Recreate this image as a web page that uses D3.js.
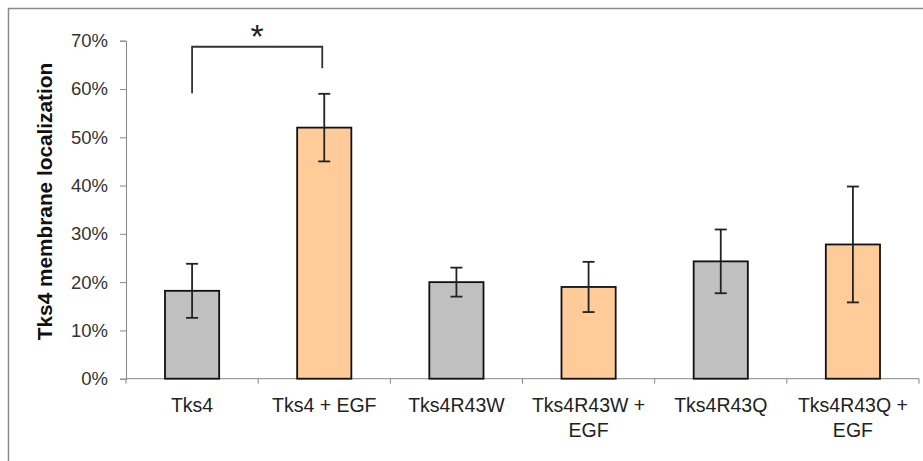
<!DOCTYPE html>
<html lang="en">
<head>
  <meta charset="utf-8">
  <title>Tks4 membrane localization</title>
  <script src="https://d3js.org/d3.v7.min.js"></script>
  <style>
    body { margin: 0; background: #fff; }
    svg { display: block; font-family: "Liberation Sans", Arial, sans-serif; }
  </style>
</head>
<body>
  <script>
    // data
    var categories = ["Tks4", "Tks4 + EGF", "Tks4R43W", "Tks4R43W + EGF", "Tks4R43Q", "Tks4R43Q + EGF"];
    var labelLines = [["Tks4"], ["Tks4 + EGF"], ["Tks4R43W"], ["Tks4R43W +", "EGF"], ["Tks4R43Q"], ["Tks4R43Q +", "EGF"]];
    var values = [0.182, 0.520, 0.200, 0.190, 0.243, 0.278];
    var errors = [0.056, 0.070, 0.030, 0.052, 0.066, 0.120];
    var yTicks = [0, 0.1, 0.2, 0.3, 0.4, 0.5, 0.6, 0.7];

    var width = 923, height = 461;
    var m = { left: 126, right: 919, top: 40.7, bottom: 378.7 };

    var svg = d3.select("body").append("svg")
      .attr("width", width)
      .attr("height", height);

    // frame (top and left edges only, as cropped)
    svg.append("line").attr("x1", 8).attr("x2", width).attr("y1", 8.5).attr("y2", 8.5)
      .attr("stroke", "#8a8a8a").attr("stroke-width", 1.5);
    svg.append("line").attr("x1", 8.5).attr("x2", 8.5).attr("y1", 8).attr("y2", height)
      .attr("stroke", "#8a8a8a").attr("stroke-width", 1.5);

    var x = d3.scaleBand().domain(categories).range([m.left, m.right]).paddingInner(0.59).paddingOuter(0.295);
    var y = d3.scaleLinear().domain([0, 0.7]).range([m.bottom, m.top]);

    // y axis
    var yAxis = svg.append("g")
      .attr("transform", "translate(" + m.left + ",0)")
      .call(d3.axisLeft(y).tickValues(yTicks).tickFormat(d3.format(".0%")).tickSize(6).tickPadding(12));
    yAxis.select(".domain").attr("stroke", "#888");
    yAxis.selectAll(".tick line").attr("stroke", "#888");
    yAxis.selectAll("text").attr("font-size", 18.5).attr("fill", "#333").attr("font-family", "Liberation Sans, Arial, sans-serif");

    // x axis with boundary ticks
    svg.append("line").attr("x1", m.left).attr("x2", m.right).attr("y1", m.bottom).attr("y2", m.bottom).attr("stroke", "#888");
    svg.selectAll(".xtick").data(d3.range(categories.length + 1)).enter().append("line")
      .attr("x1", function(i) { return m.left + i * (m.right - m.left) / categories.length; })
      .attr("x2", function(i) { return m.left + i * (m.right - m.left) / categories.length; })
      .attr("y1", m.bottom).attr("y2", m.bottom + 5).attr("stroke", "#888");

    // bars
    svg.selectAll(".bar").data(values).enter().append("rect")
      .attr("x", function(d, i) { return x(categories[i]); })
      .attr("y", function(d) { return y(d); })
      .attr("width", x.bandwidth())
      .attr("height", function(d) { return m.bottom - y(d); })
      .attr("fill", function(d, i) { return i % 2 === 0 ? "#c0c0c0" : "#ffcc99"; })
      .attr("stroke", "#111")
      .attr("stroke-width", 1.8);

    // error bars
    var eg = svg.selectAll(".err").data(values).enter().append("g");
    eg.append("line")
      .attr("x1", function(d, i) { return x(categories[i]) + x.bandwidth() / 2; })
      .attr("x2", function(d, i) { return x(categories[i]) + x.bandwidth() / 2; })
      .attr("y1", function(d, i) { return y(d + errors[i]); })
      .attr("y2", function(d, i) { return y(d - errors[i]); })
      .attr("stroke", "#222").attr("stroke-width", 1.8);
    [1, -1].forEach(function(s) {
      eg.append("line")
        .attr("x1", function(d, i) { return x(categories[i]) + x.bandwidth() / 2 - 6; })
        .attr("x2", function(d, i) { return x(categories[i]) + x.bandwidth() / 2 + 6; })
        .attr("y1", function(d, i) { return y(d + s * errors[i]); })
        .attr("y2", function(d, i) { return y(d + s * errors[i]); })
        .attr("stroke", "#222").attr("stroke-width", 1.8);
    });

    // category labels
    svg.selectAll(".xlabel").data(labelLines).enter().append("text")
      .attr("text-anchor", "middle")
      .attr("font-size", 19.5)
      .attr("fill", "#222")
      .attr("transform", function(d, i) { return "translate(" + (x(categories[i]) + x.bandwidth() / 2) + "," + (m.bottom + 33.5) + ")"; })
      .selectAll("tspan").data(function(d) { return d; }).enter().append("tspan")
      .attr("x", 0)
      .attr("dy", function(d, j) { return j === 0 ? 0 : 25; })
      .text(function(d) { return d; });

    // significance bracket between Tks4 and Tks4 + EGF
    var cx0 = x(categories[0]) + x.bandwidth() / 2;
    var cx1 = x(categories[1]) + x.bandwidth() / 2 - 2;
    var yb = y(0.6875);
    svg.append("path")
      .attr("d", "M" + cx0 + "," + y(0.591) + "V" + yb + "H" + cx1 + "V" + y(0.643))
      .attr("fill", "none").attr("stroke", "#333").attr("stroke-width", 1.8);
    svg.append("text")
      .attr("x", (cx0 + cx1) / 2)
      .attr("y", yb + 1)
      .attr("text-anchor", "middle")
      .attr("font-size", 34)
      .attr("fill", "#222")
      .text("*");

    // y axis title
    svg.append("text")
      .attr("transform", "translate(52,201.5) rotate(-90)")
      .attr("text-anchor", "middle")
      .attr("font-size", 20.8)
      .attr("font-weight", "bold")
      .attr("fill", "#111")
      .text("Tks4 membrane localization");
  </script>
</body>
</html>
